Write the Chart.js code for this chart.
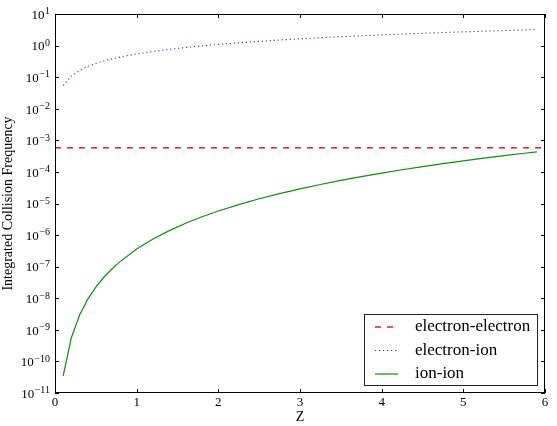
<!DOCTYPE html>
<html><head><meta charset="utf-8">
<script src="https://cdn.jsdelivr.net/npm/chart.js@4.4.0/dist/chart.umd.min.js"></script>
<style>html,body{margin:0;padding:0;background:#fff;}canvas{display:block;}</style>
</head><body>
<canvas id="c" width="557" height="426"></canvas>
<script>
// ---- data ----
const seriesLabels = ['electron-electron', 'electron-ion', 'ion-ion'];
const zEE = [0, 6];
const electronElectron = [5.8e-4, 5.8e-4];
const zGrid = [0.1, 0.2, 0.3, 0.4, 0.5, 0.6, 0.7, 0.8, 1.0, 1.2, 1.4, 1.6, 1.8, 2.0, 2.25, 2.5, 2.75, 3.0, 3.25, 3.5, 3.75, 4.0, 4.25, 4.5, 4.75, 5.0, 5.25, 5.5, 5.75, 5.9];
const electronIon = [0.054, 0.108, 0.163, 0.218, 0.272, 0.33, 0.38, 0.435, 0.545, 0.65, 0.76, 0.87, 0.98, 1.09, 1.22, 1.36, 1.5, 1.64, 1.77, 1.91, 2.04, 2.18, 2.32, 2.45, 2.59, 2.72, 2.86, 3.0, 3.13, 3.21];
const ionIon = [3.5e-11, 5.6e-10, 2.9e-9, 9.2e-9, 2.25e-8, 4.7e-8, 8.6e-8, 1.47e-7, 3.6e-7, 7.5e-7, 1.38e-6, 2.36e-6, 3.8e-6, 5.8e-6, 9.2e-6, 1.41e-5, 2.06e-5, 2.92e-5, 4.0e-5, 5.4e-5, 7.1e-5, 9.2e-5, 1.17e-4, 1.48e-4, 1.83e-4, 2.25e-4, 2.73e-4, 3.3e-4, 3.9e-4, 4.3e-4];
const xTickValues = [0, 1, 2, 3, 4, 5, 6];
const yTickExponents = [-11, -10, -9, -8, -7, -6, -5, -4, -3, -2, -1, 0, 1];
const xTitle = 'Z';
const yTitle = 'Integrated Collision Frequency';

const SERIF = '"Liberation Serif", "DejaVu Serif", serif';
const pts = (xs, ys) => xs.map((x, i) => ({x, y: ys[i]}));

const styles = [
  {color: '#d80000', dash: [6, 6], width: 1.3},
  {color: '#3535e8', dash: [1.2, 2.8], width: 1.1},
  {color: '#138a13', dash: [], width: 1.2}
];

const framePlugin = {
  id: 'frame',
  afterDatasetsDraw(chart) {
    const {ctx, chartArea: a, scales: {x, y}} = chart;
    ctx.save();
    ctx.strokeStyle = '#000';
    ctx.lineWidth = 1;
    ctx.setLineDash([]);
    ctx.beginPath();
    x.ticks.forEach(t => {
      const px = Math.round(x.getPixelForValue(t.value)) + 0.5;
      ctx.moveTo(px, a.bottom); ctx.lineTo(px, a.bottom - 4);
      ctx.moveTo(px, a.top); ctx.lineTo(px, a.top + 4);
    });
    y.ticks.forEach(t => {
      const py = Math.round(y.getPixelForValue(t.value)) + 0.5;
      ctx.moveTo(a.left, py); ctx.lineTo(a.left + 4, py);
      ctx.moveTo(a.right, py); ctx.lineTo(a.right - 4, py);
    });
    ctx.stroke();
    ctx.strokeRect(Math.round(a.left) + 0.5, Math.round(a.top) + 0.5, Math.round(a.right - a.left) - 1, Math.round(a.bottom - a.top) - 1);

    // y tick labels: 10 with a raised exponent
    ctx.fillStyle = '#000';
    ctx.textBaseline = 'alphabetic';
    ctx.textAlign = 'right';
    y.ticks.forEach((t, i) => {
      const py = y.getPixelForValue(t.value);
      const e = String(yTickExponents[i]).replace('-', '\u2212');
      const xr = a.left - 5;
      ctx.font = '10px ' + SERIF;
      const ew = ctx.measureText(e).width;
      ctx.fillText(e, xr, py + 0.3);
      ctx.font = '13px ' + SERIF;
      ctx.fillText('10', xr - ew - 0.5, py + 4.8);
    });
    ctx.restore();
  },
  afterDraw(chart) {
    // legend box inside the plot area (lower right)
    const {ctx, chartArea: a} = chart;
    const bw = 173, bh = 71;
    const bx = a.right - 8 - bw, by = a.bottom - 8 - bh;
    ctx.save();
    ctx.fillStyle = '#fff';
    ctx.fillRect(bx, by, bw, bh);
    ctx.strokeStyle = '#222';
    ctx.lineWidth = 1;
    ctx.strokeRect(Math.round(bx) + 0.5, Math.round(by) + 0.5, bw, bh);
    ctx.font = '17px ' + SERIF;
    ctx.textBaseline = 'middle';
    ctx.fillStyle = '#000';
    chart.data.datasets.forEach((ds, i) => {
      const cy = by + 13 + i * 23.5;
      ctx.beginPath();
      ctx.strokeStyle = ds.borderColor;
      ctx.lineWidth = ds.borderWidth;
      ctx.setLineDash(ds.borderDash || []);
      ctx.moveTo(bx + 11, cy); ctx.lineTo(bx + 34, cy);
      ctx.stroke();
      ctx.setLineDash([]);
      ctx.fillText(ds.label, bx + 51, cy);
    });
    ctx.restore();
  }
};

new Chart(document.getElementById('c'), {
  type: 'line',
  data: {
    datasets: [
      {label: seriesLabels[0], data: pts(zEE, electronElectron)},
      {label: seriesLabels[1], data: pts(zGrid, electronIon)},
      {label: seriesLabels[2], data: pts(zGrid, ionIon)}
    ].map((d, i) => Object.assign(d, {
      borderColor: styles[i].color, borderDash: styles[i].dash, borderWidth: styles[i].width,
      pointRadius: 0, fill: false, tension: 0
    }))
  },
  options: {
    responsive: false,
    animation: false,
    layout: {padding: {left: 0, right: 12, top: 14, bottom: 0}},
    plugins: {legend: {display: false}, tooltip: {enabled: false}},
    scales: {
      x: {
        type: 'linear', min: 0, max: 6,
        afterBuildTicks: s => { s.ticks = xTickValues.map(v => ({value: v})); },
        afterFit: s => { s.height = 33; },
        grid: {display: false, drawTicks: false},
        border: {display: false},
        ticks: {color: '#000', padding: 2, maxRotation: 0, font: {family: SERIF, size: 13}},
        title: {display: true, text: xTitle, color: '#000', font: {family: SERIF, size: 14}, padding: {top: 0, bottom: 0}}
      },
      y: {
        type: 'logarithmic', min: 1e-11, max: 10,
        afterBuildTicks: s => { s.ticks = yTickExponents.map(e => ({value: Math.pow(10, e)})); },
        afterFit: s => { s.width = 55; },
        grid: {display: false, drawTicks: false},
        border: {display: false},
        ticks: {display: false, autoSkip: false},
        title: {display: true, text: yTitle, color: '#000', font: {family: SERIF, size: 14}, padding: {top: 0, bottom: 0}}
      }
    }
  },
  plugins: [framePlugin]
});
</script>
</body></html>
